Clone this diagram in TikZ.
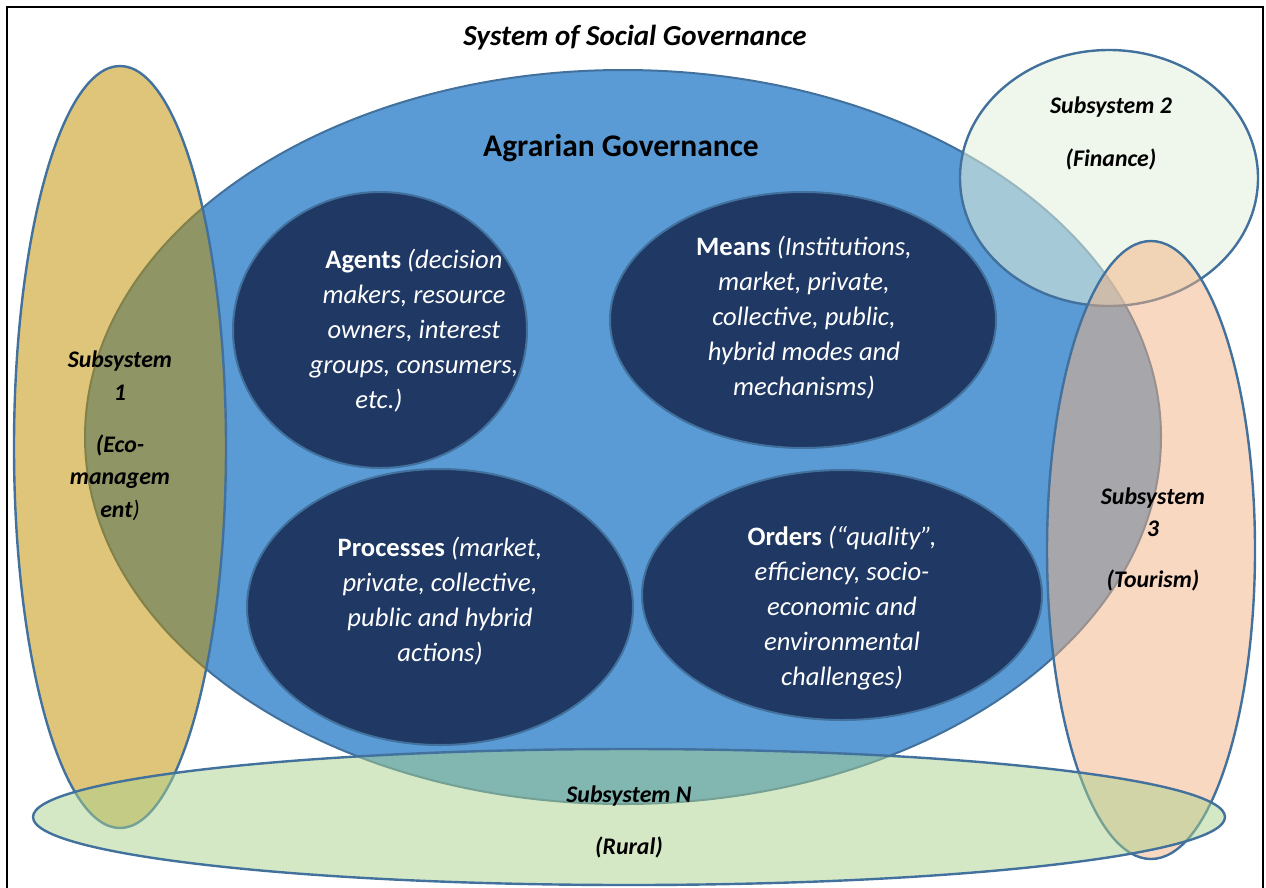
\documentclass[tikz,border=0pt]{standalone}
\usepackage{fontspec}
\setmainfont{Carlito}
\usetikzlibrary{shapes.geometric}
\definecolor{agblue}{RGB}{91,155,213}
\definecolor{edgeblue}{RGB}{65,113,156}
\definecolor{darkblue}{RGB}{31,56,100}
\definecolor{goldc}{RGB}{191,144,0}
\definecolor{finc}{RGB}{226,239,218}
\definecolor{tourc}{RGB}{244,177,131}
\definecolor{rurc}{RGB}{169,209,142}
\begin{document}
\begin{tikzpicture}[x=1pt,y=-1pt,
  ell/.style={ellipse, inner sep=0pt, outer sep=0pt, draw=edgeblue, line width=2.4pt},
  inner/.style={ellipse, inner sep=0pt, outer sep=0pt, draw=edgeblue, line width=2pt, fill=darkblue},
  intext/.style={text=white, align=center, font=\fontsize{26.6}{35}\selectfont\itshape},
  subtext/.style={text=black, align=center, font=\fontsize{23.8}{32.5}\selectfont\bfseries\itshape},
  frame/.style={draw=black, line width=1.6pt}]
\useasboundingbox (0,0) rectangle (1266,887);
\draw[frame] (7,900) -- (7,7) -- (1263,7) -- (1263,900);
% main ellipse
\node[ell, line width=2pt, fill=agblue, minimum width=1076pt, minimum height=734pt] (agr) at (623,437) {};
% inner ellipses
\node[inner, minimum width=294pt, minimum height=276pt] (agents) at (380,330) {};
\node[inner, minimum width=386pt, minimum height=256pt] (means) at (803,320) {};
\node[inner, minimum width=386pt, minimum height=276pt] (processes) at (440,607) {};
\node[inner, minimum width=400pt, minimum height=250pt] (orders) at (842,595) {};
% subsystems
\node[ell, fill=goldc, fill opacity=0.52, minimum width=212pt, minimum height=762pt] (sub1) at (120,447) {};
\node[ell, fill=finc, fill opacity=0.55, minimum width=298pt, minimum height=256pt] (sub2) at (1109,178) {};
\node[ell, fill=tourc, fill opacity=0.5, minimum width=208pt, minimum height=618pt] (sub3) at (1151,550) {};
\node[ell, fill=rurc, fill opacity=0.5, minimum width=1192pt, minimum height=136pt] (subN) at (629,817) {};
% titles
\node[anchor=base, font=\fontsize{29}{34}\selectfont\bfseries\itshape] (title) at (635,45) {System of Social Governance};
\node[anchor=base, font=\fontsize{31.5}{36}\selectfont\bfseries] (agrtitle) at (621,156) {Agrarian Governance};
% inner texts
\node[intext] (agentsT) at (414,330.5) {\textbf{\upshape Agents} (decision\\makers, resource\\owners, interest\\groups, consumers,\\etc.)\hspace*{70pt}};
\node[intext] (meansT) at (804,318) {\textbf{\upshape Means} (Institutions,\\market, private,\\collective, public,\\hybrid modes and\\mechanisms)};
\node[intext] (processesT) at (440,601.5) {\textbf{\upshape Processes} (market,\\private, collective,\\public and hybrid\\actions)};
\node[intext] (ordersT) at (842,608) {\textbf{\upshape Orders} (“quality”,\\efficiency, socio-\\economic and\\environmental\\challenges)};
% subsystem texts
\node[subtext] (sub1T) at (120,436) {Subsystem\\1\\[19.5pt](Eco-\\managem\\ent{\mdseries)}};
\node[subtext] (sub2T) at (1111,133.5) {Subsystem 2\\[20.5pt](Finance)};
\node[subtext] (sub3T) at (1153,539) {Subsystem\\3\\[18pt](Tourism)};
\node[subtext] (subNT) at (629,822) {Subsystem N\\[19.5pt](Rural)};
\end{tikzpicture}
\end{document}
